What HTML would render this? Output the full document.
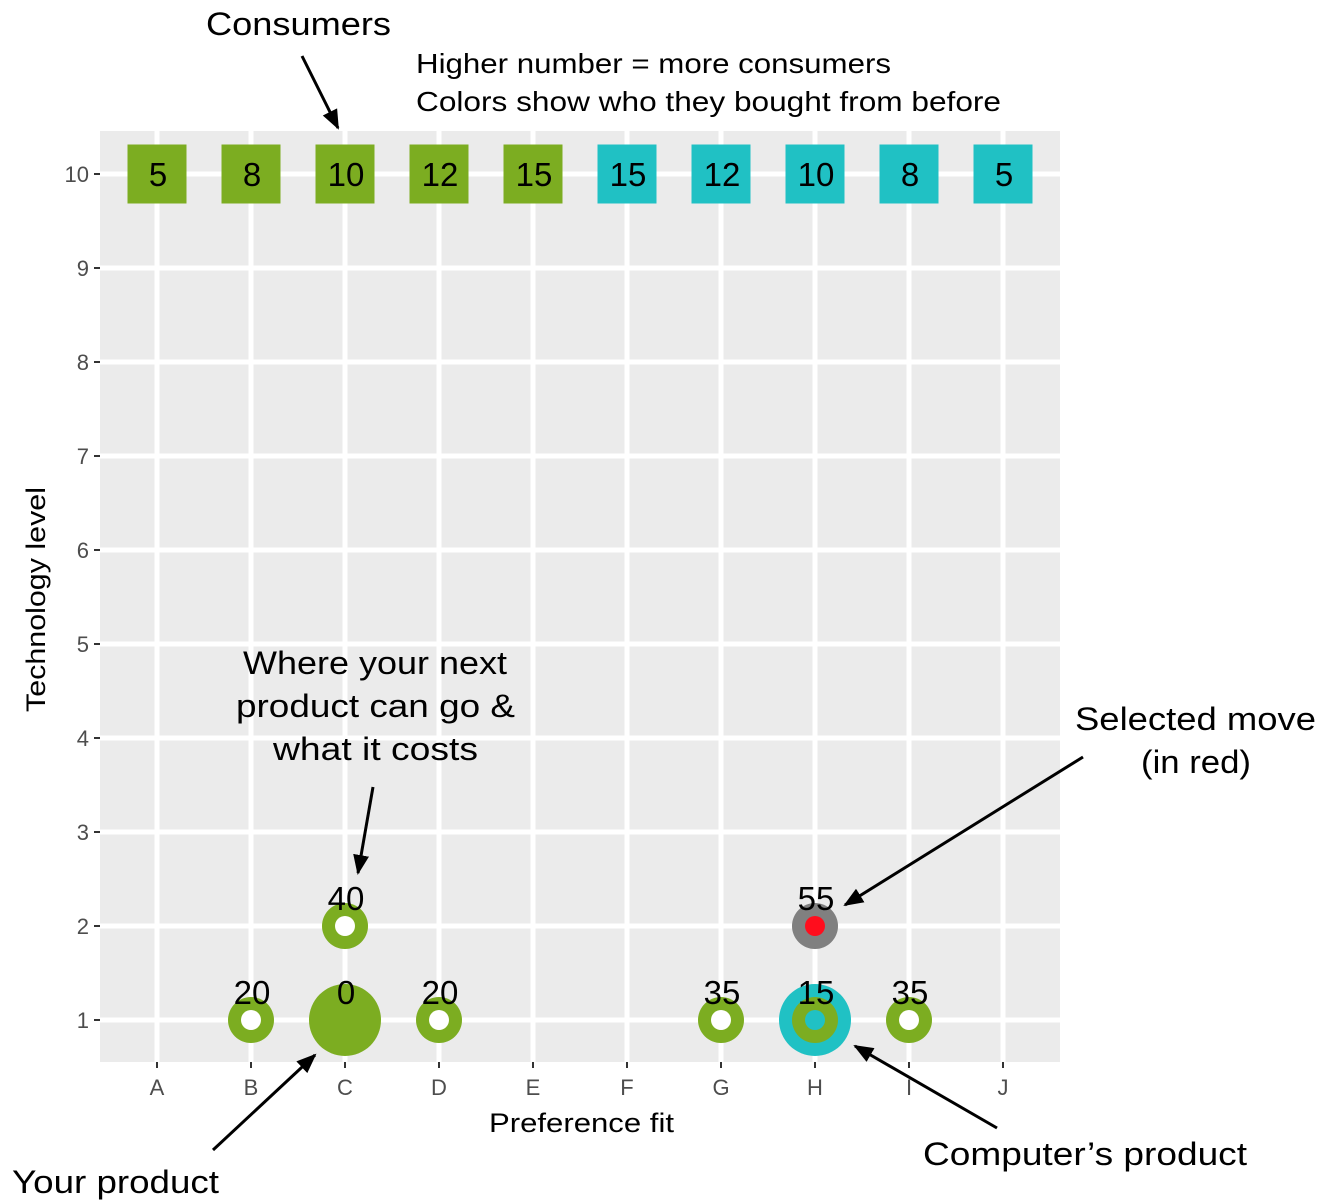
<!DOCTYPE html>
<html><head><meta charset="utf-8"><style>
body{margin:0;background:#fff;}
svg{display:block;font-family:"Liberation Sans",Arial,sans-serif;}
</style></head><body>
<svg id="chart" width="1332" height="1200" viewBox="0 0 1332 1200">
<defs>
<marker id="ahb" markerWidth="20" markerHeight="20" refX="18" refY="10" orient="auto" markerUnits="userSpaceOnUse" viewBox="0 0 20 20"><path d="M0,2 L20,10 L0,18 z" fill="#000"/></marker></defs>
<rect x="100" y="131" width="960" height="931" fill="#ebebeb"/>
<g id="grid"></g>
<g id="axes"></g>
<g id="marks"></g>
<g id="labels" fill="#000" text-anchor="middle"></g>
<text x="206" y="35" font-size="32" textLength="185" lengthAdjust="spacingAndGlyphs">Consumers</text>
<line x1="302" y1="56" x2="338" y2="128" stroke="#000" stroke-width="3" marker-end="url(#ahb)"/>
<text x="416" y="73" font-size="28" textLength="475" lengthAdjust="spacingAndGlyphs">Higher number = more consumers</text>
<text x="416" y="111" font-size="28" textLength="585" lengthAdjust="spacingAndGlyphs">Colors show who they bought from before</text>
<g font-size="32">
<text x="243" y="674" textLength="264" lengthAdjust="spacingAndGlyphs">Where your next</text><text x="236" y="717" textLength="279" lengthAdjust="spacingAndGlyphs">product can go &amp;</text><text x="273" y="760" textLength="205" lengthAdjust="spacingAndGlyphs">what it costs</text></g>
<line x1="373" y1="787" x2="358" y2="873" stroke="#000" stroke-width="3" marker-end="url(#ahb)"/>
<g font-size="32">
<text x="1075" y="730" textLength="241" lengthAdjust="spacingAndGlyphs">Selected move</text><text x="1141" y="773" textLength="110" lengthAdjust="spacingAndGlyphs">(in red)</text></g>
<line x1="1083" y1="757" x2="845" y2="905" stroke="#000" stroke-width="3" marker-end="url(#ahb)"/>
<text x="923" y="1165" font-size="32" textLength="324" lengthAdjust="spacingAndGlyphs">Computer’s product</text>
<line x1="997" y1="1128" x2="855" y2="1046" stroke="#000" stroke-width="3" marker-end="url(#ahb)"/>
<text x="12" y="1193" font-size="32" textLength="207" lengthAdjust="spacingAndGlyphs">Your product</text>
<line x1="213" y1="1150" x2="315" y2="1055" stroke="#000" stroke-width="3" marker-end="url(#ahb)"/>
<text x="489" y="1132" font-size="27" textLength="185" lengthAdjust="spacingAndGlyphs">Preference fit</text>
<text transform="translate(45,712) rotate(-90)" font-size="27" textLength="225" lengthAdjust="spacingAndGlyphs">Technology level</text>
</svg>
<script>
const categories=["A","B","C","D","E","F","G","H","I","J"];
const yTicks=[1,2,3,4,5,6,7,8,9,10];
const consumerCounts=[5,8,10,12,15,15,12,10,8,5];
const consumerGroup=["you","you","you","you","you","cpu","cpu","cpu","cpu","cpu"];
const moveCats=["B","C","D","G","I"];
const moveTech=[1,2,1,1,1];
const moveCost=[20,40,20,35,35];
const yourProduct={cat:"C",tech:1,cost:0};
const cpuProduct={cat:"H",tech:1,cost:15};
const selectedMove={cat:"H",tech:2,cost:55};
const GREEN="#7cad21",TEAL="#20c1c4";
const NS="http://www.w3.org/2000/svg";
const xs=c=>157+categories.indexOf(c)*94;
const ys=v=>1020-(v-1)*94;
function mk(tag,attrs,parent){const e=document.createElementNS(NS,tag);for(const k in attrs)e.setAttribute(k,attrs[k]);parent.appendChild(e);return e;}
const grid=document.getElementById('grid'),axes=document.getElementById('axes'),marks=document.getElementById('marks'),labels=document.getElementById('labels');
yTicks.forEach(v=>{
 const l=mk('line',{x1:100,x2:1060,y1:ys(v),y2:ys(v),stroke:'#fff','stroke-width':5},grid);
 
 
 const t=mk('line',{x1:94,x2:100,y1:ys(v),y2:ys(v),stroke:'#333','stroke-width':2},axes);
 
 
 const tx=mk('text',{x:89,y:ys(v)+8,'font-size':22,fill:'#4d4d4d','text-anchor':'end'},axes);
 tx.textContent=v;
 
 
});
categories.forEach(c=>{
 const l=mk('line',{x1:xs(c),x2:xs(c),y1:131,y2:1062,stroke:'#fff','stroke-width':5},grid);
 
 
 const t=mk('line',{x1:xs(c),x2:xs(c),y1:1062,y2:1068,stroke:'#333','stroke-width':2},axes);
 
 
 const tx=mk('text',{x:xs(c),y:1095,'font-size':22,fill:'#4d4d4d','text-anchor':'middle'},axes);
 tx.textContent=c;
 
 
});
categories.forEach((c,i)=>{
 const r=mk('rect',{x:xs(c)-29.5,y:ys(10)-29.5,width:59,height:59,fill:consumerGroup[i]==="you"?GREEN:TEAL},marks);
 
 
 const t=mk('text',{x:xs(c)+1,y:ys(10)+12,'font-size':33,'text-anchor':'middle',fill:'#000'},labels);
 t.textContent=consumerCounts[i];
 
 
});
function costLabel(cat,tech,val){
 const t=mk('text',{x:xs(cat)+1,y:ys(tech)-16,'font-size':33,'text-anchor':'middle',fill:'#000'},labels);
 t.textContent=val;
 
 
}
moveCats.forEach((c,i)=>{
 const a=mk('circle',{cx:xs(c),cy:ys(moveTech[i]),r:23,fill:GREEN},marks);
 
 
 const b=mk('circle',{cx:xs(c),cy:ys(moveTech[i]),r:10,fill:'#fff'},marks);
 
 
 costLabel(c,moveTech[i],moveCost[i]);
});
let e=mk('circle',{cx:xs(yourProduct.cat),cy:ys(yourProduct.tech),r:36,fill:GREEN},marks);


costLabel(yourProduct.cat,yourProduct.tech,yourProduct.cost);
e=mk('circle',{cx:xs(cpuProduct.cat),cy:ys(cpuProduct.tech),r:36,fill:TEAL},marks);


e=mk('circle',{cx:xs(cpuProduct.cat),cy:ys(cpuProduct.tech),r:23,fill:GREEN},marks);


e=mk('circle',{cx:xs(cpuProduct.cat),cy:ys(cpuProduct.tech),r:10,fill:TEAL},marks);


costLabel(cpuProduct.cat,cpuProduct.tech,cpuProduct.cost);
e=mk('circle',{cx:xs(selectedMove.cat),cy:ys(selectedMove.tech),r:23,fill:'#808080'},marks);


e=mk('circle',{cx:xs(selectedMove.cat),cy:ys(selectedMove.tech),r:10,fill:'#ff0d1d'},marks);


costLabel(selectedMove.cat,selectedMove.tech,selectedMove.cost);
</script>
</body></html>
